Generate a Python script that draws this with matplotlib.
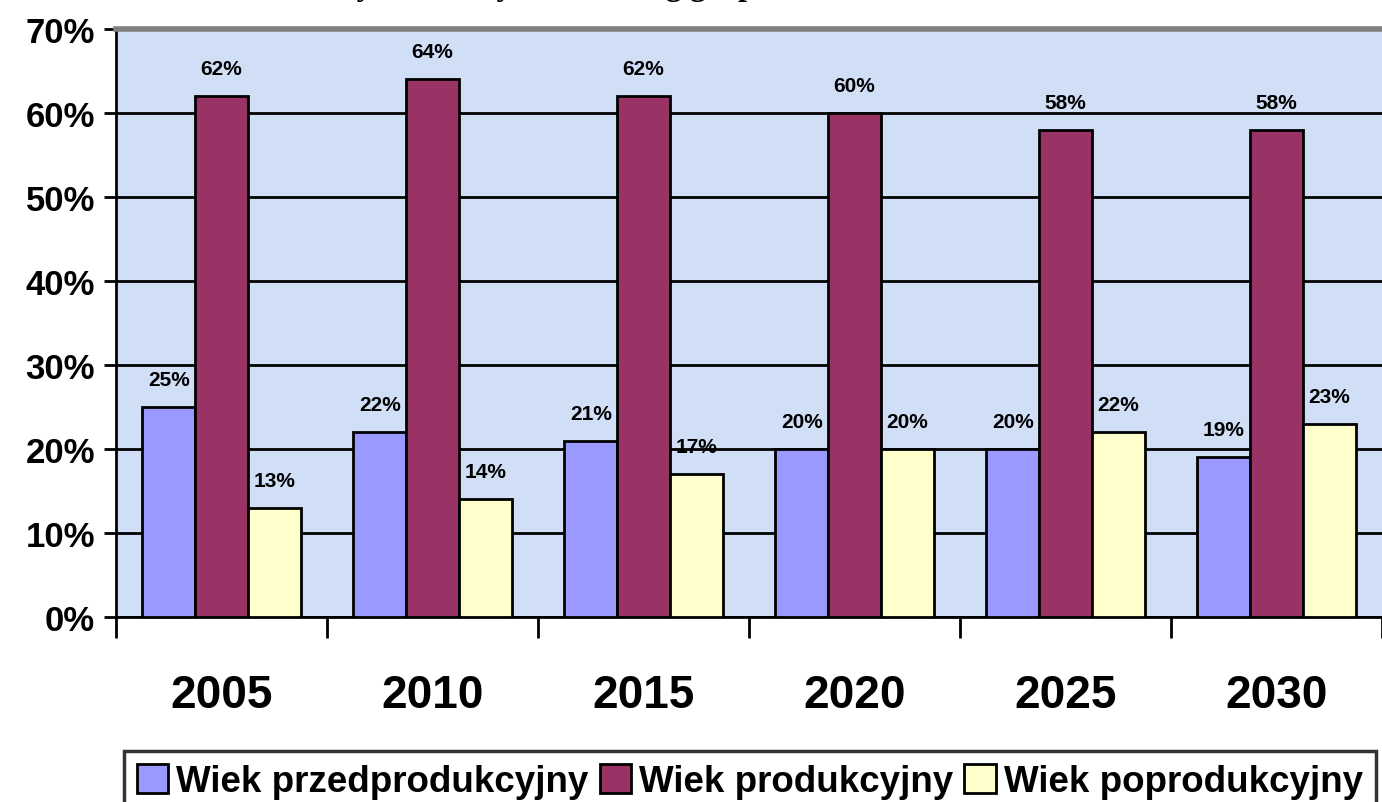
import matplotlib
matplotlib.use("Agg")
import matplotlib.pyplot as plt
import numpy as np
from matplotlib.patches import Patch

years = ["2005", "2010", "2015", "2020", "2025", "2030"]
przed = [25, 22, 21, 20, 20, 19]
prod = [62, 64, 62, 60, 58, 58]
poprod = [13, 14, 17, 20, 22, 23]
series_names = ["Wiek przedprodukcyjny", "Wiek produkcyjny", "Wiek poprodukcyjny"]
colors = ["#9999ff", "#993366", "#ffffcc"]
title = "Zmiany struktury ludności wg grup wieku w latach 2005-2030"

plt.rcParams['font.family'] = ['Liberation Sans', 'DejaVu Sans']

fig = plt.figure(figsize=(13.82, 8.03), dpi=100)
ax = fig.add_axes([116/1382, 1-618/803, 1-116/1382, (618-30)/803])
ax.set_facecolor("#d0def6")

x = np.arange(len(years))
w = 0.25
series = [przed, prod, poprod]
for i, (vals, c) in enumerate(zip(series, colors)):
    bars = ax.bar(x + (i-1)*w, vals, width=w, color=c, edgecolor="black", linewidth=2, zorder=3)
    for b, v in zip(bars, vals):
        ax.annotate(f"{v}%", (b.get_x()+b.get_width()/2, v), xytext=(0, 13),
                    textcoords="offset points", ha="center", va="bottom",
                    fontsize=15, fontweight="bold", zorder=4)

ax.set_xlim(-0.5, len(years)-0.5)
ax.set_ylim(0, 70)
ax.set_yticks(range(0, 71, 10))
ax.set_yticklabels([f"{v}%" for v in range(0, 71, 10)], fontsize=25, fontweight="bold")
ax.yaxis.grid(True, color="black", linewidth=2, zorder=1)
ax.set_axisbelow(True)

ax.set_xticks(np.arange(len(years)+1) - 0.5)
ax.set_xticklabels([])
ax.set_xticks(x, minor=True)
ax.set_xticklabels(years, minor=True, fontsize=33, fontweight="bold")
ax.tick_params(axis="x", which="major", length=15, width=2, direction="out")
ax.tick_params(axis="x", which="minor", length=0, pad=40)
ax.tick_params(axis="y", length=9, width=2, pad=6)

for s in ["left", "bottom"]:
    ax.spines[s].set_linewidth(2)
    ax.spines[s].set_color("black")
ax.spines["right"].set_visible(False)
ax.spines["top"].set_color("#808080")
ax.spines["top"].set_linewidth(4)

fig.text(0.5, 1.0 + 5/803, title, ha="center", va="baseline", fontsize=23,
         fontweight="bold", family=["Liberation Serif", "DejaVu Serif"])

handles = [Patch(facecolor=c, edgecolor="black", linewidth=2) for c in colors]
leg = fig.legend(handles, series_names, loc="upper center",
                 bbox_to_anchor=(750/1382, 1-752/803),
                 ncol=3, prop={"weight": "bold", "size": 26.5},
                 frameon=True, fancybox=False, handlelength=0.85, handleheight=0.85,
                 handletextpad=0.22, columnspacing=0.3, borderaxespad=0, borderpad=0.35)
leg.get_frame().set_edgecolor("black")
leg.get_frame().set_linewidth(2.5)

fig.savefig("out.png", dpi=100)
